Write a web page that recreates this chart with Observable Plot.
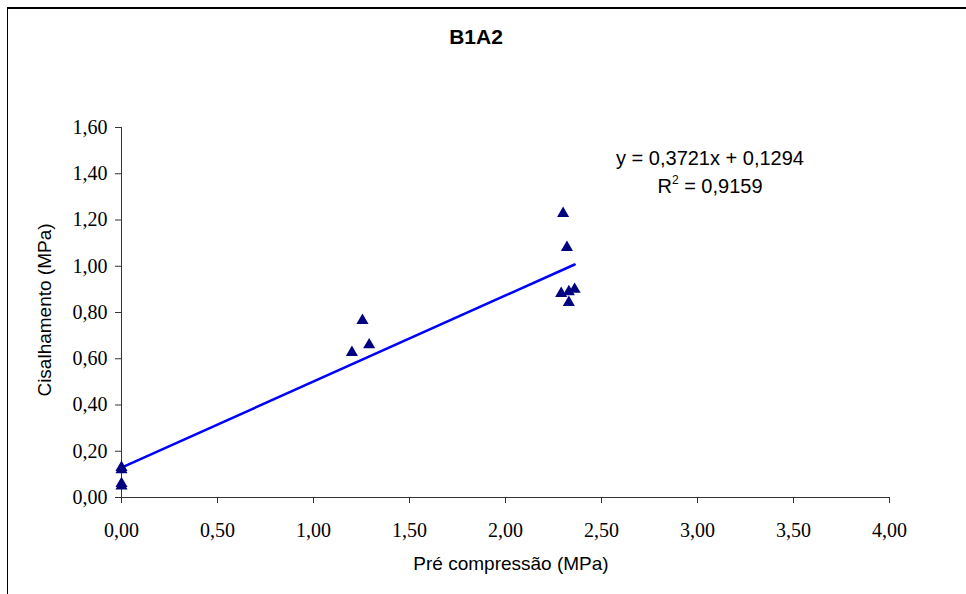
<!DOCTYPE html>
<html>
<head>
<meta charset="utf-8">
<script src="https://cdn.jsdelivr.net/npm/d3@7"></script>
<script src="https://cdn.jsdelivr.net/npm/@observablehq/plot@0.6"></script>
<style>
  html, body { margin: 0; padding: 0; background: #fff; overflow: hidden; }
  #wrap { position: relative; width: 966px; height: 594px; }
  #frame { position: absolute; left: 7px; top: 7px; width: 1000px; height: 700px; border: 1px solid #000; border-top-width: 2px; box-sizing: border-box; }
  .lbl { position: absolute; font-family: "Liberation Sans", Arial, sans-serif; color: #000; white-space: nowrap; }
  #title { left: 376px; width: 200px; top: 25px; text-align: center; font-weight: bold; font-size: 21px; }
  #xlabel { left: 127px; width: 768px; top: 553px; text-align: center; font-size: 19px; }
  #ylabel { left: 45px; top: 310px; font-size: 19px; transform: translate(-50%, -50%) rotate(-90deg); }
  #eq { left: 610px; width: 200px; top: 144px; text-align: center; font-size: 20px; line-height: 28px; }
  #eq sup { font-size: 12px; line-height: 0; position: relative; top: -1px; }
  #chart { position: absolute; left: 0; top: 0; }
</style>
</head>
<body>
<div id="wrap">
  <div id="frame"></div>
  <div id="chart"></div>
  <div class="lbl" id="title">B1A2</div>
  <div class="lbl" id="xlabel">Pré compressão (MPa)</div>
  <div class="lbl" id="ylabel">Cisalhamento (MPa)</div>
  <div class="lbl" id="eq"></div>
</div>
<script>
// Data
const preCompressao = [0, 0, 0, 0, 1.20, 1.255, 1.29, 2.30, 2.32, 2.29, 2.33, 2.36, 2.33];
const cisalhamento = [0.13, 0.12, 0.06, 0.05, 0.627, 0.765, 0.66, 1.228, 1.081, 0.882, 0.89, 0.90, 0.843];
const xTicks = [0, 0.5, 1.0, 1.5, 2.0, 2.5, 3.0, 3.5, 4.0];
const yTicks = [0, 0.2, 0.4, 0.6, 0.8, 1.0, 1.2, 1.4, 1.6];
const slope = 0.3721;
const intercept = 0.1294;
const r2 = 0.9159;

const points = preCompressao.map((x, i) => ({x, y: cisalhamento[i]}));
const xMax = d3.max(preCompressao);
const trend = [0, xMax].map(x => ({x, y: slope * x + intercept}));
const fmt = d => d.toFixed(2).replace(".", ",");
const fmt4 = d => d.toFixed(4).replace(".", ",");

document.getElementById("eq").innerHTML =
  `y = ${fmt4(slope)}x + ${fmt4(intercept)}<br>R<sup>2</sup> = ${fmt4(r2)}`;

const chart = Plot.plot({
  width: 966,
  height: 594,
  marginLeft: 121,
  marginRight: 77,
  marginTop: 127,
  marginBottom: 97,
  style: { background: "transparent", color: "#000" },
  x: { domain: [0, 4] },
  y: { domain: [0, 1.6] },
  marks: [
    Plot.axisX({ ticks: xTicks, tickFormat: fmt, tickSize: 6, tickPadding: 19, fontSize: 20, fontFamily: "Liberation Serif", label: null, stroke: "#333" }),
    Plot.axisY({ ticks: yTicks, tickFormat: fmt, tickSize: 6, tickPadding: 8, fontSize: 20, fontFamily: "Liberation Serif", label: null, stroke: "#333" }),
    Plot.ruleY([0], { stroke: "#333" }),
    Plot.ruleX([0], { stroke: "#333" }),
    Plot.line(trend, { x: "x", y: "y", stroke: "#0000ff", strokeWidth: 2.5 }),
    Plot.dot(points, { x: "x", y: "y", symbol: "triangle", r: 4.5, fill: "#000080", stroke: "none" })
  ]
});
document.getElementById("chart").appendChild(chart);
</script>
</body>
</html>
